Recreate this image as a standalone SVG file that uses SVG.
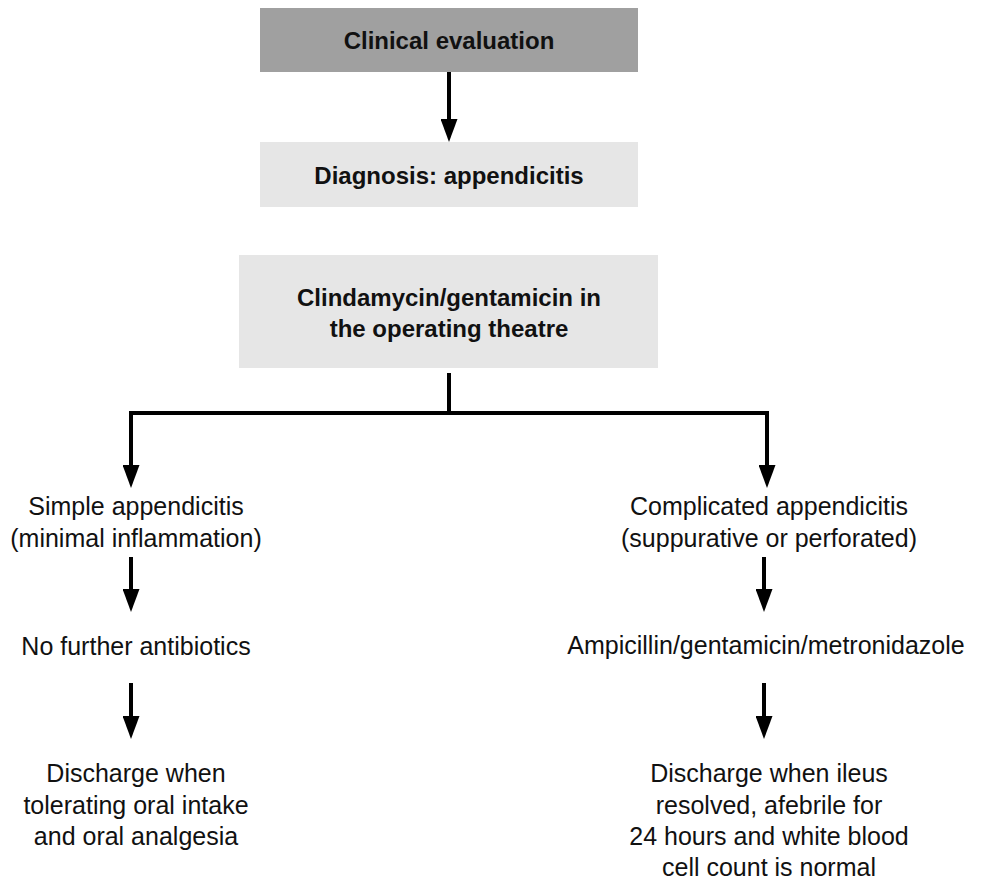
<svg xmlns="http://www.w3.org/2000/svg" width="986" height="880" viewBox="0 0 986 880">
  <style>
    .bold { font-family: "Liberation Sans", Arial, sans-serif; font-weight: bold; font-size: 24px; fill: #111; text-anchor: middle; }
    .plain { font-family: "Liberation Sans", Arial, sans-serif; font-size: 25px; fill: #111; text-anchor: middle; }
    .dark { fill: #a0a0a0; }
    .light { fill: #e6e6e6; }
    .wire { fill: none; stroke: #000; stroke-width: 4; stroke-linejoin: miter; }
  </style>
  <defs>
    <marker id="head" markerUnits="userSpaceOnUse" markerWidth="23" markerHeight="17" viewBox="0 0 23 17" refX="13" refY="8.5" orient="auto">
      <path d="M0,0 L23,8.5 L0,17 Z" fill="#000"/>
    </marker>
  </defs>
  <rect width="986" height="880" fill="#fff"/>

  <!-- connectors -->
  <g id="connectors">
    <path class="wire" d="M449,72 V132" marker-end="url(#head)"/>
    <path class="wire" d="M449,373 V413"/>
    <path class="wire" d="M449,413 H131 V478" marker-end="url(#head)"/>
    <path class="wire" d="M449,413 H767 V478" marker-end="url(#head)"/>
    <path class="wire" d="M131,557 V602" marker-end="url(#head)"/>
    <path class="wire" d="M131,683 V729" marker-end="url(#head)"/>
    <path class="wire" d="M764,557 V602" marker-end="url(#head)"/>
    <path class="wire" d="M764,683 V729" marker-end="url(#head)"/>
  </g>

  <!-- nodes -->
  <g id="clinical-evaluation">
    <rect class="dark" x="260" y="8" width="378" height="64"/>
    <text class="bold" x="449" y="49">Clinical evaluation</text>
  </g>
  <g id="diagnosis">
    <rect class="light" x="260" y="142" width="378" height="65"/>
    <text class="bold" x="449" y="184">Diagnosis: appendicitis</text>
  </g>
  <g id="theatre">
    <rect class="light" x="239" y="255" width="419" height="113"/>
    <text class="bold" x="449" y="306">Clindamycin/gentamicin in</text>
    <text class="bold" x="449" y="337">the operating theatre</text>
  </g>
  <g id="simple">
    <text class="plain" x="136" y="515">Simple appendicitis</text>
    <text class="plain" x="136" y="547">(minimal inflammation)</text>
  </g>
  <g id="no-antibiotics">
    <text class="plain" x="136" y="655">No further antibiotics</text>
  </g>
  <g id="discharge-simple">
    <text class="plain" x="136" y="782">Discharge when</text>
    <text class="plain" x="136" y="814">tolerating oral intake</text>
    <text class="plain" x="136" y="845">and oral analgesia</text>
  </g>
  <g id="complicated">
    <text class="plain" x="769" y="515">Complicated appendicitis</text>
    <text class="plain" x="769" y="547">(suppurative or perforated)</text>
  </g>
  <g id="triple-therapy">
    <text class="plain" x="766" y="654">Ampicillin/gentamicin/metronidazole</text>
  </g>
  <g id="discharge-complicated">
    <text class="plain" x="769" y="782">Discharge when ileus</text>
    <text class="plain" x="769" y="814">resolved, afebrile for</text>
    <text class="plain" x="769" y="845">24 hours and white blood</text>
    <text class="plain" x="769" y="876">cell count is normal</text>
  </g>
</svg>
